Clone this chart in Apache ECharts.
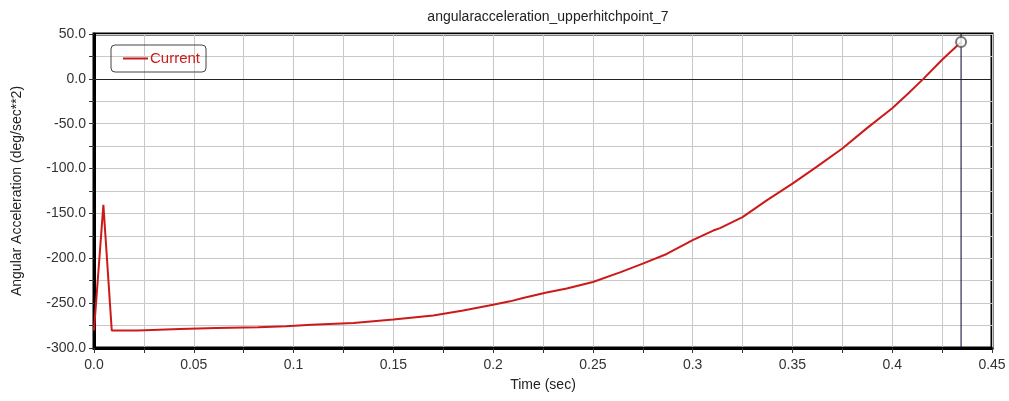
<!DOCTYPE html>
<html>
<head>
<meta charset="utf-8">
<script src="https://cdn.jsdelivr.net/npm/echarts@6/dist/echarts.min.js"></script>
<style>
html,body{margin:0;padding:0;background:#fff;}
#chart{width:1009px;height:401px;}
</style>
</head>
<body>
<div id="chart"></div>
<script>
var titleText = 'angularacceleration_upperhitchpoint_7';
var seriesName = 'Current';
var times = [0, 0.0047, 0.0089, 0.022, 0.0225, 0.043, 0.0615, 0.0823, 0.0962, 0.109, 0.130, 0.150, 0.170, 0.185, 0.200, 0.2085, 0.215, 0.2268, 0.2369, 0.250, 0.2636, 0.275, 0.287, 0.300, 0.3103, 0.3137, 0.325, 0.3371, 0.350, 0.3621, 0.375, 0.3872, 0.400, 0.4072, 0.4156, 0.425, 0.4345];
var values = [-280.5, -140.5, -280.5, -280.5, -279.5, -278.7, -277.6, -276.8, -275.7, -274.2, -272.0, -268.3, -263.8, -258.2, -251.8, -248.0, -244.3, -238.1, -233.6, -226.4, -215.7, -205.9, -195.2, -179.8, -169.1, -166.4, -154.1, -135.5, -116.8, -98.1, -77.6, -55.2, -32.8, -17.9, 0.0, 21.3, 41.0];
var xTickLabels = ['0.0', '0.05', '0.1', '0.15', '0.2', '0.25', '0.3', '0.35', '0.4', '0.45'];
var yTickLabels = ['-300.0', '-250.0', '-200.0', '-150.0', '-100.0', '-50.0', '0.0', '50.0'];
var cursorTime = 0.4345;
var yRange = [-300, 50];

var data = times.map(function (t, i) { return [t, values[i]]; });
var last = data[data.length - 1];

var chart = echarts.init(document.getElementById('chart'));
var font = 'Liberation Sans, Arial, sans-serif';
chart.setOption({
  animation: false,
  backgroundColor: '#fff',
  textStyle: { fontFamily: font },
  title: {
    text: titleText, left: 543, textAlign: 'center', top: 5,
    textStyle: { fontSize: 14, fontWeight: 'normal', color: '#222', fontFamily: font }
  },
  legend: {
    left: 111, top: 45,
    data: [{ name: seriesName, icon: 'rect' }],
    itemWidth: 25, itemHeight: 2, itemGap: 5,
    borderColor: '#444', borderWidth: 1, borderRadius: 4,
    padding: [6, 6, 6, 12],
    textStyle: { color: '#cc1a1a', fontSize: 15, fontFamily: font, padding: [0, 0, 0, -3] }
  },
  grid: {
    left: 94, right: 17, top: 34, bottom: 53,
    show: true, borderColor: '#000', borderWidth: 3, backgroundColor: '#fff'
  },
  xAxis: {
    type: 'value', min: 0, max: 0.45, interval: 0.025,
    name: 'Time (sec)', nameLocation: 'middle', nameGap: 30,
    nameTextStyle: { fontSize: 14, color: '#222', fontFamily: font },
    axisLine: { show: true, onZero: false, lineStyle: { color: '#000', width: 3 } },
    axisTick: { show: true, length: 5, lineStyle: { color: '#333' } },
    axisLabel: {
      fontSize: 14, color: '#333', margin: 10, fontFamily: font,
      formatter: function (v) {
        var k = Math.round(v * 1000);
        if (k % 50 !== 0) return '';
        return xTickLabels[k / 50];
      }
    },
    splitLine: { show: true, lineStyle: { color: '#c8c8c8', width: 1 } }
  },
  yAxis: {
    type: 'value', min: yRange[0], max: yRange[1], interval: 25,
    name: 'Angular Acceleration (deg/sec**2)', nameLocation: 'middle', nameGap: 70,
    nameTextStyle: { fontSize: 14, color: '#222', fontFamily: font },
    axisLine: { show: true, onZero: false, lineStyle: { color: '#000', width: 3 } },
    axisTick: { show: true, length: 5, lineStyle: { color: '#333' } },
    axisLabel: {
      fontSize: 14, color: '#333', margin: 8, fontFamily: font,
      formatter: function (v) {
        var k = Math.round(v);
        if (k % 50 !== 0) return '';
        return yTickLabels[(k + 300) / 50];
      }
    },
    splitLine: { show: true, lineStyle: { color: '#c8c8c8', width: 1 } }
  },
  series: [
    {
      name: 'cursorLine', type: 'line',
      data: [[cursorTime, yRange[0]], [cursorTime, yRange[1]]],
      showSymbol: false, symbol: 'none', silent: true,
      lineStyle: { color: '#000033', width: 1 },
      z: 4
    },
    {
      name: seriesName, type: 'line', data: data,
      showSymbol: false, symbol: 'none',
      lineStyle: { color: '#cc1a1a', width: 2 },
      itemStyle: { color: '#cc1a1a' },
      z: 5,
      markLine: {
        silent: true, symbol: 'none', label: { show: false },
        data: [
          { yAxis: 0, lineStyle: { color: '#222', width: 1, type: 'solid' } }
        ]
      }
    },
    {
      name: 'cursor', type: 'scatter', data: [last],
      symbol: 'emptyCircle', symbolSize: 10,
      itemStyle: { color: '#555', borderColor: '#555', borderWidth: 1.2 },
      z: 6
    }
  ]
});
</script>
</body>
</html>
